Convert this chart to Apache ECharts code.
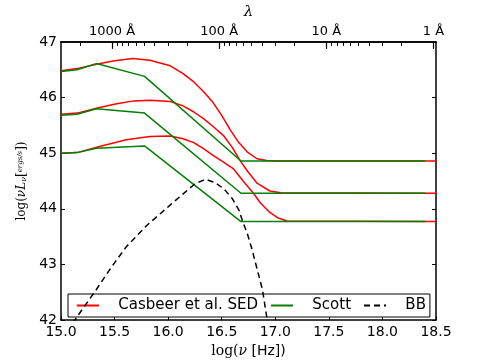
<!DOCTYPE html>
<html>
<head>
<meta charset="utf-8">
<script src="https://cdn.jsdelivr.net/npm/echarts@6/dist/echarts.min.js"></script>
<style>
    html, body {margin: 0; padding: 0; background: #fff;}
    #main {width: 485px; height: 363px;}
</style>
</head>
<body>
<div id="main"></div>
<script>
// Casbeer et al. SED, three luminosities (log nu, log nuLnu)
var casbeerHigh = [[15.0, 46.48], [15.15, 46.52], [15.33, 46.60], [15.5, 46.66], [15.67, 46.70], [15.83, 46.67],
    [16.02, 46.57], [16.14, 46.43], [16.24, 46.28], [16.33, 46.11], [16.42, 45.91], [16.50, 45.68], [16.58, 45.42],
    [16.66, 45.19], [16.74, 45.02], [16.83, 44.90], [16.92, 44.87], [17.05, 44.86], [18.5, 44.86]];
var casbeerMid = [[15.0, 45.70], [15.15, 45.72], [15.36, 45.82], [15.52, 45.89], [15.68, 45.94], [15.83, 45.95],
    [16.02, 45.93], [16.14, 45.85], [16.24, 45.74], [16.33, 45.62], [16.42, 45.48], [16.52, 45.31], [16.60, 45.10],
    [16.67, 44.87], [16.74, 44.68], [16.83, 44.46], [16.95, 44.32], [17.05, 44.29], [18.5, 44.28]];
var casbeerLow = [[15.0, 45.0], [15.15, 45.01], [15.36, 45.12], [15.61, 45.24], [15.83, 45.30], [16.02, 45.31],
    [16.14, 45.26], [16.24, 45.19], [16.33, 45.08], [16.42, 44.96], [16.51, 44.85], [16.61, 44.72], [16.70, 44.50],
    [16.80, 44.27], [16.86, 44.11], [16.94, 43.95], [17.02, 43.84], [17.11, 43.78], [18.5, 43.77]];
// Scott broken power law
var scottHigh = [[15.0, 46.47], [15.15, 46.50], [15.33, 46.61], [15.78, 46.38], [16.68, 44.86], [18.4, 44.86]];
var scottMid = [[15.0, 45.68], [15.15, 45.70], [15.33, 45.80], [15.78, 45.72], [16.68, 44.28], [18.4, 44.28]];
var scottLow = [[15.0, 45.0], [15.15, 45.01], [15.33, 45.09], [15.78, 45.13], [16.68, 43.77], [18.4, 43.77]];
// black body
var bb = [[15.11, 41.95], [15.15, 42.06], [15.33, 42.55], [15.47, 42.95], [15.61, 43.32], [15.80, 43.70],
    [16.02, 44.07], [16.25, 44.45], [16.35, 44.53], [16.44, 44.47], [16.52, 44.36], [16.60, 44.18],
    [16.66, 43.98], [16.70, 43.75], [16.74, 43.55], [16.78, 43.29], [16.88, 42.55], [16.92, 42.06], [16.93, 41.95]];

// top axis: wavelength in Angstrom
var lambdaMajor = [1000, 100, 10, 1];
var lambdaMinor = [2000, 900, 800, 700, 600, 500, 400, 300, 200, 90, 80, 70, 60, 50, 40, 30, 20,
    9, 8, 7, 6, 5, 4, 3, 2];

var LOG_C = Math.log10(2.998e18);//c in A/s
function lamToNu(l) {
    return LOG_C - Math.log10(l);
}
var nuMajor = lambdaMajor.map(lamToNu);
var nuMinor = lambdaMinor.map(lamToNu).filter(function (v) {
    return v > 15 && v < 18.5;
});

var RED = '#ff0000', GREEN = '#008000';
var font = 'DejaVu Sans';

function redLine(data) {
    return {
        name: 'Casbeer et al. SED', type: 'line', data: data, symbol: 'none',
        lineStyle: {color: RED, width: 1.5}, itemStyle: {color: RED}, z: 2
    };
}
function greenLine(data) {
    return {
        name: 'Scott', type: 'line', data: data, symbol: 'none',
        lineStyle: {color: GREEN, width: 1.5}, itemStyle: {color: GREEN}, z: 3
    };
}

var baseAxis = {
    type: 'value', min: 15, max: 18.5,
    axisLine: {show: true, onZero: false, lineStyle: {color: '#000', width: 1.5}},
    splitLine: {show: false}
};

var myChart = echarts.init(document.getElementById('main'));
myChart.setOption({
    animation: false,
    backgroundColor: '#fff',
    grid: {left: 61, right: 49, top: 35, bottom: 38},
    legend: {
        left: 68, top: 294,
        padding: [4, 4, 4, 9],
        itemGap: 13, itemWidth: 22, itemHeight: 2,
        backgroundColor: '#fff', borderColor: '#000', borderWidth: 1,
        textStyle: {fontFamily: font, fontSize: 15, color: '#000'},
        formatter: function (name) {
            return '   ' + name;
        },
        data: [
            {name: 'Casbeer et al. SED', icon: 'rect'},
            {name: 'Scott', icon: 'rect'},
            {name: 'BB', icon: 'path://M0,0h6v2h-6zM10,0h6v2h-6zM20,0h2v2h-2z'}
        ]
    },
    xAxis: [
        Object.assign({}, baseAxis, {
            position: 'bottom', interval: 0.5,
            name: '{s|log(}{i|ν}{t| [Hz])}', nameLocation: 'middle', nameGap: 17,
            nameTextStyle: {
                rich: {
                    s: {fontFamily: 'DejaVu Serif', fontSize: 14, color: '#000'},
                    i: {fontFamily: 'DejaVu Serif', fontStyle: 'italic', fontSize: 14, color: '#000'},
                    t: {fontFamily: font, fontSize: 14, color: '#000'}
                }
            },
            axisTick: {show: true, inside: true, length: 4, lineStyle: {color: '#000'}},
            axisLabel: {
                fontFamily: font, fontSize: 14, color: '#000', margin: 5,
                formatter: function (v) {
                    return v.toFixed(1);
                }
            }
        }),
        Object.assign({}, baseAxis, {
            position: 'top',
            name: 'λ', nameLocation: 'middle', nameGap: 20,
            nameTextStyle: {fontFamily: 'DejaVu Serif', fontStyle: 'italic', fontSize: 15, color: '#000'},
            axisTick: {show: true, inside: true, length: 7, customValues: nuMajor, lineStyle: {color: '#000', width: 1.2}},
            axisLabel: {
                show: true, customValues: nuMajor, fontFamily: font, fontSize: 13, color: '#000', margin: 4,
                formatter: function (v) {
                    var l = Math.round(Math.pow(10, LOG_C - v));
                    return l + ' Å';
                }
            }
        }),
        Object.assign({}, baseAxis, {
            position: 'top',
            axisTick: {show: true, inside: true, length: 4, customValues: nuMinor, lineStyle: {color: '#000'}},
            axisLabel: {show: false}
        })
    ],
    yAxis: [
        {
            type: 'value', min: 42, max: 47, interval: 1, position: 'left',
            axisLine: {show: true, onZero: false, lineStyle: {color: '#000', width: 1.5}},
            axisTick: {show: true, inside: true, length: 4, lineStyle: {color: '#000'}},
            axisLabel: {fontFamily: font, fontSize: 14, color: '#000', margin: 4},
            splitLine: {show: false},
            name: '{s|log(}{i|νL}{b|ν}{s|[}{f|ergs/s}{s|])}',
            nameLocation: 'middle', nameGap: 16,
            nameTextStyle: {
                rich: {
                    s: {fontFamily: 'DejaVu Serif', fontSize: 12, color: '#000'},
                    i: {fontFamily: 'DejaVu Serif', fontStyle: 'italic', fontSize: 12, color: '#000'},
                    b: {fontFamily: 'DejaVu Serif', fontStyle: 'italic', fontSize: 8, color: '#000', verticalAlign: 'bottom'},
                    f: {fontFamily: 'DejaVu Serif', fontStyle: 'italic', fontSize: 7, color: '#000', verticalAlign: 'top'}
                }
            }
        },
        {
            type: 'value', min: 42, max: 47, interval: 1, position: 'right',
            axisLine: {show: true, onZero: false, lineStyle: {color: '#000', width: 1.5}},
            axisTick: {show: true, inside: true, length: 4, lineStyle: {color: '#000'}},
            axisLabel: {show: false},
            splitLine: {show: false}
        }
    ],
    series: [
        redLine(casbeerHigh), redLine(casbeerMid), redLine(casbeerLow),
        greenLine(scottHigh), greenLine(scottMid), greenLine(scottLow),
        {
            name: 'BB', type: 'line', data: bb, symbol: 'none',
            lineStyle: {color: '#000', width: 1.5, type: [6, 4]}, itemStyle: {color: '#000'}, z: 4
        }
    ]
});
</script>
</body>
</html>
